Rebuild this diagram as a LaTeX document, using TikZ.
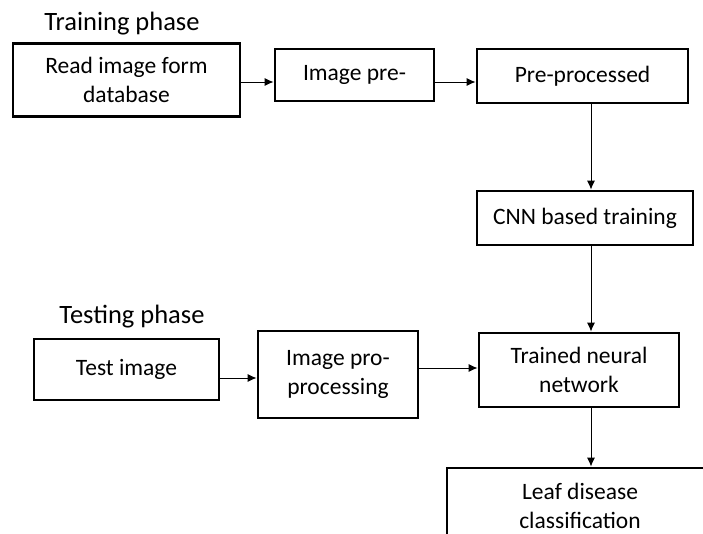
\documentclass[tikz,border=0pt]{standalone}
\usepackage{fontspec}
\setmainfont{Carlito}
\usetikzlibrary{arrows.meta}

\begin{document}
\begin{tikzpicture}[x=1pt, y=-1pt,
    every node/.style = {align=center, inner sep=0pt, font=\fontsize{23.5}{29}\selectfont},
    box/.style = {draw, line width=2.8pt, rectangle},
    phase/.style = {font=\fontsize{26.5}{30}\selectfont},
    arr/.style = {-{Latex[length=9pt,width=8pt]}, line width=0.9pt},
    ]

    \clip (0,0) rectangle (703,534);
    \fill[white] (0,0) rectangle (703,534);

    % training phase
    \node[phase] (trainlbl) at (122,24) {Training phase};
    \node[box, minimum width=227pt, minimum height=73pt] (read) at (126.5,80) {Read image form\\database};
    \node[box, minimum width=159pt, minimum height=52pt] (imgpre) at (354.5,75) {Image pre-};
    \node[box, minimum width=211pt, minimum height=54pt] (preproc) at (582.5,76) {Pre-processed};
    \node[box, minimum width=216pt, minimum height=54pt] (cnn) at (585,218) {CNN based training};

    % testing phase
    \node[phase] (testlbl) at (132,317) {Testing phase};
    \node[box, minimum width=185pt, minimum height=61pt] (testimg) at (126.5,369.5) {Test image};
    \node[box, minimum width=160pt, minimum height=87pt] (imgpro) at (338,374.5) {Image pro-\\processing};
    \node[box, minimum width=200pt, minimum height=74pt] (trained) at (579,370) {Trained neural\\network};
    \node[box, minimum width=266pt, minimum height=76pt] (leaf) at (580,506) {Leaf disease\\classification};

    % helper coordinates for connector lines
    \coordinate (spine) at (591,0);
    \coordinate (rowtop) at (0,82);
    \coordinate (rowtest) at (0,378);
    \coordinate (rowpro) at (0,368);

    \draw[arr] (read.east |- rowtop) -- (imgpre.west |- rowtop);
    \draw[arr] (imgpre.east |- rowtop) -- (preproc.west |- rowtop);
    \draw[arr] (preproc.south -| spine) -- (cnn.north -| spine);
    \draw[arr] (cnn.south -| spine) -- (trained.north -| spine);
    \draw[arr] (testimg.east |- rowtest) -- (imgpro.west |- rowtest);
    \draw[arr] (imgpro.east |- rowpro) -- (trained.west |- rowpro);
    \draw[arr] (trained.south -| spine) -- (leaf.north -| spine);

\end{tikzpicture}
\end{document}
